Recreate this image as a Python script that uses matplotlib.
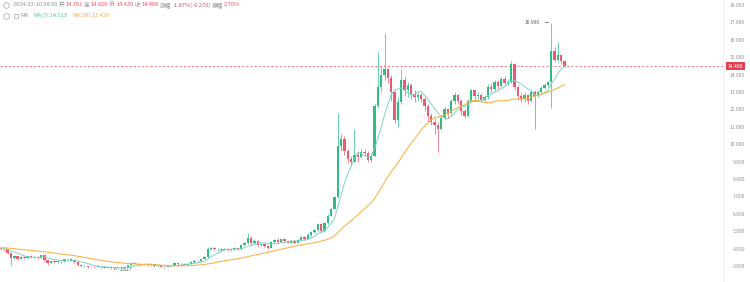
import numpy as np
import pandas as pd
import matplotlib
matplotlib.use('Agg')
import matplotlib.pyplot as plt
from matplotlib.lines import Line2D

plt.rcParams['font.family'] = ['Noto Sans CJK SC', 'DejaVu Sans']

# closes before the visible window, only needed to warm up the moving averages
warmup = [4.15, 4.2, 4.1, 4.05, 4.12, 4.18, 4.08, 4.0, 4.05, 4.1,
          4.15, 4.02, 3.98, 4.05, 4.1, 4.12, 4.0, 3.95, 4.02, 4.08,
          4.1, 4.05, 4.0, 3.98, 4.02, 4.05, 4.0, 3.97, 4.0]

first_open = 4.02
closes = [3.98, 3.95, 3.75, 3.45, 3.55, 3.42, 3.5, 3.46, 3.58, 3.5,
          3.52, 3.48, 3.62, 3.35, 3.2, 3.28, 3.22, 3.3, 3.26, 3.38,
          3.42, 3.35, 3.22, 3.08, 2.98, 3.0, 2.95, 2.97, 2.94, 2.98,
          2.95, 2.9, 2.93, 2.88, 2.86, 2.92, 2.89, 2.94, 3.05, 3.2,
          3.14, 3.1, 3.08, 3.12, 3.05, 3.1, 2.98, 3.02, 2.96, 2.94,
          3.0, 3.04, 3.18, 3.1, 3.12, 3.08, 3.14, 3.22, 3.3, 3.28,
          3.42, 3.5, 4.0, 4.05, 3.95, 4.0, 3.92, 3.98, 3.9, 3.96,
          4.02, 3.95, 4.2, 4.3, 4.62, 4.3, 4.45, 4.2, 4.28, 4.15,
          4.05, 4.38, 4.5, 4.4, 4.55, 4.45, 4.35, 4.45, 4.35, 4.5,
          4.68, 4.58, 4.8, 4.95, 5.08, 5.4, 5.0, 5.45, 5.9, 6.3,
          6.95, 9.9, 10.3, 9.6, 9.15, 9.0, 9.4, 9.25, 9.55, 9.5,
          9.1, 9.35, 12.2, 13.3, 14.0, 14.3, 13.8, 13.0, 11.4, 12.4,
          13.7, 13.1, 13.4, 12.9, 12.7, 12.85, 12.6, 12.2, 11.6, 11.3,
          11.1, 10.9, 11.5, 12.0, 11.8, 12.5, 12.85, 12.5, 11.9, 11.6,
          12.5, 13.1, 12.75, 12.85, 12.55, 12.7, 13.3, 13.15, 13.55, 13.35,
          13.75, 13.5, 13.6, 14.6, 13.3, 12.8, 12.6, 12.85, 12.5, 13.0,
          12.8, 13.0, 13.25, 13.4, 13.55, 15.35, 14.85, 15.1, 14.762, 14.486]
highs = [4.05, 4.02, 3.98, 3.8, 3.62, 3.6, 3.56, 3.55, 3.64, 3.62,
         3.58, 3.56, 3.7, 3.65, 3.4, 3.33, 3.32, 3.36, 3.34, 3.42,
         3.48, 3.46, 3.38, 3.25, 3.12, 3.05, 3.04, 3.02, 3.0, 3.03,
         3.0, 2.98, 2.97, 2.95, 2.92, 2.96, 2.95, 2.98, 3.08, 3.25,
         3.24, 3.17, 3.14, 3.16, 3.14, 3.14, 3.12, 3.06, 3.04, 3.0,
         3.03, 3.08, 3.22, 3.2, 3.16, 3.15, 3.18, 3.26, 3.34, 3.35,
         3.46, 3.56, 4.08, 4.12, 4.1, 4.05, 4.04, 4.03, 4.0, 4.0,
         4.08, 4.05, 4.25, 4.38, 4.9, 4.7, 4.55, 4.5, 4.35, 4.32,
         4.2, 4.45, 4.58, 4.6, 4.62, 4.58, 4.52, 4.5, 4.48, 4.55,
         4.72, 4.75, 4.88, 5.0, 5.14, 5.48, 5.45, 5.55, 6.0, 6.4,
         7.05, 11.8, 10.6, 10.45, 9.7, 9.35, 10.9, 9.6, 9.7, 9.7,
         9.6, 9.5, 12.3, 15.3, 14.5, 16.4, 14.4, 14.0, 13.1, 12.7,
         14.3, 13.9, 13.6, 13.5, 13.1, 13.0, 12.95, 12.7, 12.3, 11.8,
         11.5, 11.3, 11.7, 12.2, 12.1, 12.6, 13.0, 12.9, 12.6, 12.0,
         12.6, 13.2, 13.15, 13.0, 12.95, 12.85, 13.45, 13.5, 13.7, 13.7,
         13.85, 13.9, 13.75, 14.8, 14.65, 13.4, 12.95, 13.0, 12.9, 13.1,
         13.1, 13.1, 13.35, 13.5, 13.65, 16.99, 15.6, 15.9, 15.2, 14.828]
lows = [3.9, 3.88, 3.7, 3.05, 3.4, 3.35, 3.38, 3.4, 3.42, 3.45,
        3.46, 3.42, 3.45, 3.3, 3.08, 3.15, 3.18, 3.2, 3.2, 3.22,
        3.32, 3.3, 3.15, 3.0, 2.92, 2.93, 2.9, 2.92, 2.89, 2.92,
        2.9, 2.86, 2.87, 2.83, 2.827, 2.85, 2.86, 2.88, 2.92, 3.02,
        3.1, 3.05, 3.02, 3.05, 3.0, 3.02, 2.94, 2.95, 2.92, 2.9,
        2.92, 2.98, 3.02, 3.06, 3.06, 3.04, 3.06, 3.1, 3.18, 3.22,
        3.25, 3.38, 3.48, 3.92, 3.9, 3.88, 3.86, 3.9, 3.85, 3.88,
        3.92, 3.9, 3.94, 4.15, 4.28, 4.22, 4.25, 4.1, 4.15, 4.08,
        3.98, 4.02, 4.32, 4.35, 4.38, 4.4, 4.3, 4.3, 4.3, 4.32,
        4.45, 4.52, 4.56, 4.75, 4.9, 5.02, 4.92, 4.98, 5.4, 5.85,
        6.25, 6.9, 9.6, 9.4, 8.9, 8.75, 8.95, 9.0, 9.2, 9.3,
        8.95, 9.0, 9.3, 12.1, 13.0, 13.7, 13.5, 12.5, 11.2, 11.0,
        12.3, 12.8, 12.7, 12.6, 12.4, 12.5, 12.4, 11.9, 11.3, 11.1,
        10.6, 9.55, 10.8, 11.4, 11.5, 11.7, 12.3, 12.3, 11.7, 11.5,
        11.55, 12.4, 12.55, 12.5, 12.4, 12.45, 12.6, 13.0, 13.05, 13.2,
        13.3, 13.4, 13.4, 13.5, 13.1, 12.6, 12.4, 12.45, 12.3, 12.4,
        10.9, 12.7, 12.9, 13.15, 13.3, 12.1, 14.7, 14.75, 14.6, 14.430]
last_open = 14.761

header_parts = [("2024-03-10 08:00", "grey"), ("开", "grey"), ("14.761", "red"),
                ("高", "grey"), ("14.828", "red"), ("低", "grey"), ("14.430", "red"),
                ("收", "grey"), ("14.486", "red"), ("涨幅", "grey"),
                ("-1.87%(-0.276)", "red"), ("振幅", "grey"), ("2.70%", "red")]
ma_parts = [("MA", "grey"), ("MA(7):14.513", "ma7"), ("MA(30):13.429", "ma30")]
y_ticks = [3, 4, 5, 6, 7, 8, 9, 10, 11, 12, 13, 14, 15, 16, 17, 18]

opens = [first_open] + closes[:-1]
opens[-1] = last_open

UP = '#2ebd85'
DOWN = '#ec5b6d'
MA7_C = '#7dd3c8'
MA30_C = '#f6b54a'
GREY = '#8e949a'
colors = {"grey": GREY, "red": '#e8505f', "ma7": '#4cc2b0', "ma30": '#f2a93b'}

s = pd.Series(warmup + closes)
ma7 = s.rolling(7).mean().iloc[len(warmup):].to_numpy()
ma30 = s.rolling(30).mean().iloc[len(warmup):].to_numpy()

o = np.array(opens)
c = np.array(closes)
h = np.array(highs)
l = np.array(lows)
idx = np.arange(len(c))
up = c >= o
col = np.where(up, UP, DOWN)

fig = plt.figure(figsize=(7.5, 2.82), dpi=100)
ax = fig.add_axes([0, 0, 723 / 750, 1])

ax.vlines(idx, l, h, colors=col, linewidth=0.5, zorder=2)
body = np.maximum(np.abs(c - o), 0.02)
ax.bar(idx, body, bottom=np.minimum(o, c), width=0.72, color=col, linewidth=0, zorder=3)

ax.plot(idx, ma7, color=MA7_C, linewidth=0.7, zorder=4)
ax.plot(idx, ma30, color=MA30_C, linewidth=0.8, zorder=4)

ax.axhline(c[-1], color='#e8606d', linewidth=0.6, linestyle=(0, (2.5, 2.5)), zorder=1)

ax.set_xlim(-0.3, 216.5)
ax.set_ylim(2.08, 18.29)

for sp in ['left', 'top', 'bottom']:
    ax.spines[sp].set_visible(False)
ax.spines['right'].set_color('#eef0f2')
ax.spines['right'].set_linewidth(0.6)
ax.set_xticks([])
ax.yaxis.tick_right()
ax.set_yticks(y_ticks)
ax.set_yticklabels([f"{v:.3f}" for v in y_ticks])
ax.tick_params(axis='y', length=0, pad=15.8, labelsize=3.6, labelcolor=GREY)
for lab in ax.get_yticklabels():
    lab.set_horizontalalignment('right')

# last price tag
ax.annotate(f"{c[-1]:.3f}", xy=(1.006, c[-1]), xycoords=('axes fraction', 'data'),
            fontsize=3.6, color='white', va='center', ha='left', annotation_clip=False,
            bbox=dict(boxstyle='square,pad=0.35', fc='#e33e52', ec='none'))

# high / low markers
hi = int(np.argmax(h))
lo = int(np.argmin(l))
ax.annotate(f"{h[hi]:.3f}", xy=(hi, h[hi]), xytext=(hi - 3.5, h[hi]),
            fontsize=3.6, color='#555a60', va='center', ha='right',
            arrowprops=dict(arrowstyle='-', color='#555a60', lw=0.5))
ax.annotate(f"{l[lo]:.3f}", xy=(lo, l[lo]), xytext=(lo + 1.5, l[lo]),
            fontsize=3.6, color='#555a60', va='center', ha='left',
            arrowprops=dict(arrowstyle='-', color='#555a60', lw=0.5))

# header lines
r = fig.canvas.get_renderer()

def chain(parts, x0, y0, gap=1.2):
    x = x0
    for txt, key in parts:
        t = fig.text(x / 750, y0, txt, color=colors[key], fontsize=4.1, va='center', ha='left')
        bb = t.get_window_extent(renderer=r)
        x = bb.x1 + gap

for yy in [1 - 5 / 282, 1 - 15.5 / 282]:
    fig.add_artist(Line2D([6 / 750], [yy], marker='o', markersize=4, mfc='none',
                          mec='#a0a5aa', mew=0.5, transform=fig.transFigure))
fig.add_artist(Line2D([15.5 / 750], [1 - 15.5 / 282], marker='s', markersize=3, mfc='none',
                      mec='#a0a5aa', mew=0.5, transform=fig.transFigure))

chain(header_parts, 13, 1 - 5 / 282)
chain(ma_parts, 20, 1 - 15.5 / 282, gap=5)

fig.savefig('out.png', dpi=100, facecolor='white')
